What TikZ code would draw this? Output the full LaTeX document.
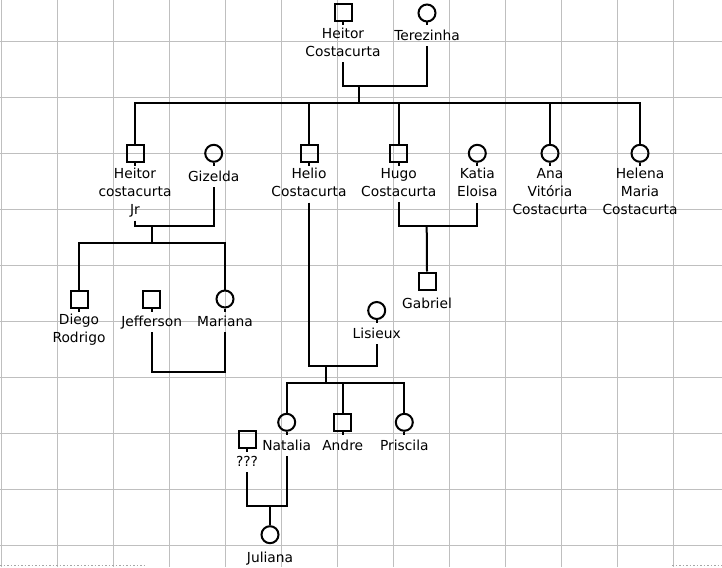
\documentclass[tikz,border=0pt]{standalone}
\usepackage{fontspec}
\setmainfont{DejaVu Sans}
\usetikzlibrary{positioning}

\tikzset{
  male/.style={draw, rectangle, minimum size=17pt, inner sep=0pt, line width=2pt},
  female/.style={draw, circle, minimum size=17pt, inner sep=0pt, line width=2pt},
  who/.style={align=center, inner sep=0pt, font=\fontsize{13.8}{18}\selectfont,
    execute at begin node=\strut, execute at end node=\strut},
  tie/.style={line width=2pt},
  gridline/.style={draw=black!25, line width=1pt}
}

\begin{document}
\begin{tikzpicture}[x=1pt, y=-1pt]
  \useasboundingbox (0,0) rectangle (722,567);
  % sheet grid
  \foreach \gx in {1.5,57.5,...,673.5}
    \draw[gridline] (\gx,0) -- (\gx,567);
  \foreach \gy in {41.5,97.5,...,545.5}
    \draw[gridline] (0,\gy) -- (722,\gy);
  \draw[black!35, dotted, line width=1.5pt] (0,565.5) -- (145,565.5) (672,565.5) -- (722,565.5);

  % people
  \node[male]   (hc) at (343,13) {};
  \node[female] (tz) at (427,13) {};
  \node[male]   (hj) at (135,153.3) {};
  \node[female] (gz) at (213.7,153.3) {};
  \node[male]   (he) at (309,153.3) {};
  \node[male]   (hu) at (398.7,153.3) {};
  \node[female] (ka) at (477.3,153.3) {};
  \node[female] (an) at (550,153.3) {};
  \node[female] (hl) at (640,153.3) {};
  \node[male]   (ga) at (427,281) {};
  \node[male]   (di) at (79,299) {};
  \node[male]   (je) at (151.7,299) {};
  \node[female] (ma) at (225,299) {};
  \node[female] (li) at (376.7,310.5) {};
  \node[female] (na) at (286.7,422.3) {};
  \node[male]   (ad) at (342.7,422.3) {};
  \node[female] (pr) at (404.3,422.3) {};
  \node[male]   (un) at (247,439) {};
  \node[female] (ju) at (270,534.7) {};

  % names
  \node[who, below=5.5pt of hc] (hcL) {Heitor\\Costacurta};
  \node[who, below=5.5pt of tz] (tzL) {Terezinha};
  \node[who, below=5.5pt of hj] (hjL) {Heitor\\costacurta\\Jr};
  \node[who, below=5.5pt of gz] (gzL) {Gizelda};
  \node[who, below=5.5pt of he] (heL) {Helio\\Costacurta};
  \node[who, below=5.5pt of hu] (huL) {Hugo\\Costacurta};
  \node[who, below=5.5pt of ka] (kaL) {Katia\\Eloisa};
  \node[who, below=5.5pt of an] (anL) {Ana\\Vitória\\Costacurta};
  \node[who, below=5.5pt of hl] (hlL) {Helena\\Maria\\Costacurta};
  \node[who, below=5.5pt of ga] (gaL) {Gabriel};
  \node[who, below=5.5pt of di] (diL) {Diego\\Rodrigo};
  \node[who, below=5.5pt of je] (jeL) {Jefferson};
  \node[who, below=5.5pt of ma] (maL) {Mariana};
  \node[who, below=5.5pt of li] (liL) {Lisieux};
  \node[who, below=5.5pt of na] (naL) {Natalia};
  \node[who, below=5.5pt of ad] (adL) {Andre};
  \node[who, below=5.5pt of pr] (prL) {Priscila};
  \node[who, below=5.5pt of un] (unL) {???};
  \node[who, below=5.5pt of ju] (juL) {Juliana};

  % small ticks under the symbols
  \draw[tie] (hc.south) -- +(0,3) (tz.south) -- +(0,3) (hj.south) -- +(0,3)
    (gz.south) -- +(0,3) (he.south) -- +(0,3) (hu.south) -- +(0,3)
    (ka.south) -- +(0,3) (an.south) -- +(0,3) (hl.south) -- +(0,3)
    (di.south) -- +(0,3) (je.south) -- +(0,3) (ma.south) -- +(0,3)
    (li.south) -- +(0,3) (na.south) -- +(0,3) (ad.south) -- +(0,3)
    (pr.south) -- +(0,3) (un.south) -- +(0,3);

  % couples and children
  \coordinate (c1) at (359.3,86);
  \coordinate (s1) at (359.3,103);
  \draw[tie] (hcL.south) |- (c1) -| (tzL.south);
  \draw[tie] (c1) -- (s1);
  \draw[tie] (hj.north) |- (s1) -| (hl.north);
  \draw[tie] (s1) -| (he.north);
  \draw[tie] (s1) -| (hu.north);
  \draw[tie] (s1) -| (an.north);

  \coordinate (c2) at (152,226);
  \coordinate (s2) at (152,242.7);
  \draw[tie] (hjL.south) |- (c2) -| (gzL.south);
  \draw[tie] (c2) -- (s2);
  \draw[tie] (di.north) |- (s2) -| (ma.north);

  \coordinate (c3) at (188,372);
  \draw[tie] (jeL.south) |- (c3) -| (maL.south);

  \coordinate (c4) at (426.7,226);
  \draw[tie] (huL.south) |- (c4) -| (kaL.south);
  \draw[tie] (c4) -- (ga.north);

  \coordinate (c5) at (325.7,365.7);
  \coordinate (s5) at (325.7,382.5);
  \draw[tie] (heL.south) |- (c5) -| (liL.south);
  \draw[tie] (c5) -- (s5);
  \draw[tie] (na.north) |- (s5) -| (pr.north);
  \draw[tie] (s5) -| (ad.north);

  \coordinate (c6) at (270,505.7);
  \draw[tie] (unL.south) |- (c6) -| (naL.south);
  \draw[tie] (c6) -- (ju.north);
\end{tikzpicture}
\end{document}
